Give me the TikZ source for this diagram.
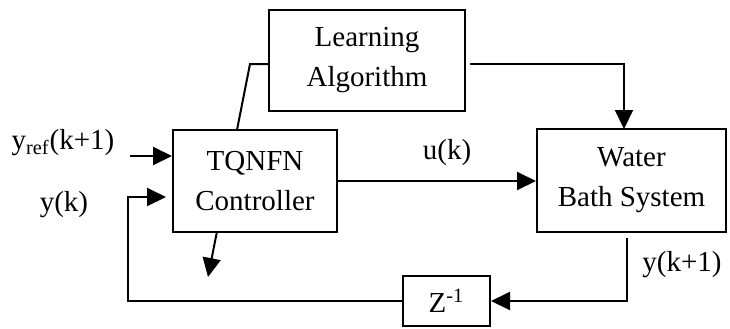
\documentclass[tikz,border=0pt]{standalone}
\usepackage{fontspec}
\setmainfont{Liberation Serif}
\usetikzlibrary{arrows.meta,positioning,backgrounds}

\tikzset{
  blk/.style={draw,line width=1pt,fill=white,align=center,inner sep=0pt},
  sig/.style={line width=1pt,-{Triangle[length=9.5pt,width=9pt]}},
  lbl/.style={inner sep=0pt}
}

\begin{document}
\begin{tikzpicture}[x=0.5pt,y=-0.5pt,font=\fontsize{14.5}{20}\selectfont]
  \useasboundingbox (0,0) rectangle (730,328);
  % blocks
  \node[blk,minimum width=82pt,minimum height=51pt] (ctrl) at (255,181) {TQNFN\\Controller};
  \node[blk,minimum width=98pt,minimum height=50.5pt] (learn) at (367,60.5) {Learning\\Algorithm};
  \node[blk,minimum width=94.5pt,minimum height=51.5pt] (water) at (631.5,180.5) {Water\\Bath System};
  \node[blk,minimum width=43.5pt,minimum height=25pt] (zdel) at (446.5,301) {Z\textsuperscript{-1}};
  % signal labels
  \node[lbl] (yreflbl) at (63,143) {y\textsubscript{ref}(k+1)};
  \node[lbl] (yklbl) at (64,205) {y(k)};
  \node[lbl] (uklbl) at (447,153) {u(k)};
  \node[lbl] (yklbl2) at (682,265) {y(k+1)};
  % helper points
  \coordinate (yrefin) at (130,156);
  \coordinate (fbk) at (128,197);
  \coordinate (tuneA) at (250,64);
  \coordinate (tuneB) at (208,277);
  \coordinate (lout) at (470,64);
  \coordinate (win) at (624,129);
  \coordinate (wout) at (627,238);
  % adaptation arrow through the controller
  \begin{scope}[on background layer]
    \draw[sig] (learn.west |- tuneA) -- (tuneA) -- (tuneB);
  \end{scope}
  % connectors
  \draw[sig] (yrefin) -- (yrefin -| ctrl.west);
  \draw[sig] (ctrl.east) -- (ctrl.east -| water.west);
  \draw[sig] (lout) -| (win);
  \draw[sig] (wout) |- (zdel.east);
  \draw[sig,shorten >=3pt] (zdel.west) -| (fbk) -- (fbk -| ctrl.west);
\end{tikzpicture}
\end{document}
